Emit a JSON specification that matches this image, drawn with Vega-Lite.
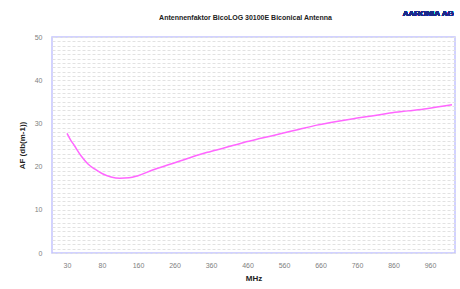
{
  "$schema": "https://vega.github.io/schema/vega-lite/v6.json",
  "width": 403,
  "height": 216,
  "autosize": {"type": "none"},
  "padding": {"left": 52, "top": 37, "right": 5, "bottom": 36},
  "background": "white",
  "title": {
    "text": "Antennenfaktor BicoLOG 30100E Biconical Antenna",
    "fontSize": 7,
    "font": "Liberation Sans",
    "fontWeight": "bold",
    "color": "#222222",
    "anchor": "middle",
    "frame": "group",
    "orient": "top",
    "dx": -8,
    "offset": -11
  },
  "config": {
    "view": {"stroke": "#c4c4ff", "strokeWidth": 1.5},
    "font": "Liberation Sans"
  },
  "data": {
    "values": [
      {"MHz": 30, "AF": 27.7},
      {"MHz": 35, "AF": 26.2},
      {"MHz": 40, "AF": 25.0},
      {"MHz": 50, "AF": 22.5},
      {"MHz": 60, "AF": 20.6},
      {"MHz": 70, "AF": 19.4},
      {"MHz": 80, "AF": 18.4},
      {"MHz": 100, "AF": 17.6},
      {"MHz": 120, "AF": 17.3},
      {"MHz": 140, "AF": 17.4},
      {"MHz": 160, "AF": 17.9},
      {"MHz": 200, "AF": 19.2},
      {"MHz": 250, "AF": 20.6},
      {"MHz": 300, "AF": 22.0},
      {"MHz": 350, "AF": 23.3},
      {"MHz": 400, "AF": 24.4},
      {"MHz": 450, "AF": 25.6},
      {"MHz": 500, "AF": 26.6},
      {"MHz": 550, "AF": 27.6},
      {"MHz": 600, "AF": 28.6},
      {"MHz": 650, "AF": 29.6},
      {"MHz": 700, "AF": 30.4},
      {"MHz": 750, "AF": 31.1},
      {"MHz": 800, "AF": 31.7},
      {"MHz": 850, "AF": 32.4},
      {"MHz": 900, "AF": 32.9},
      {"MHz": 950, "AF": 33.4},
      {"MHz": 1000, "AF": 34.3}
    ]
  },
  "layer": [
    {
      "mark": {"type": "line", "color": "#ff66ff", "strokeWidth": 1.5, "interpolate": "monotone"},
      "encoding": {
        "x": {
          "field": "MHz",
          "type": "quantitative",
          "scale": {"domain": [8.57, 30, 80, 160, 960, 1005.5], "range": [0, 15, 50, 86, 378, 403], "nice": false, "zero": false},
          "axis": {
            "values": [30, 80, 160, 260, 360, 460, 560, 660, 760, 860, 960],
            "tickCount": 20,
            "title": "MHz",
            "titleFontSize": 8,
            "titleFontWeight": "bold",
            "titleColor": "#222222",
            "titlePadding": 6,
            "labelFontSize": 7,
            "labelColor": "#808080",
            "labelPadding": 8,
            "labelOverlap": false,
            "ticks": false,
            "domain": false,
            "grid": false
          }
        },
        "y": {
          "field": "AF",
          "type": "quantitative",
          "scale": {"domain": [0, 50], "nice": false, "zero": true},
          "axis": {
            "values": [0,1,2,3,4,5,6,7,8,9,10,11,12,13,14,15,16,17,18,19,20,21,22,23,24,25,26,27,28,29,30,31,32,33,34,35,36,37,38,39,40,41,42,43,44,45,46,47,48,49,50],
            "tickCount": 60,
            "labelExpr": "datum.value % 10 === 0 ? datum.label : ''",
            "labelOverlap": false,
            "title": "AF (db(m-1))",
            "titleFontSize": 8,
            "titleFontWeight": "bold",
            "titleColor": "#222222",
            "titlePadding": 8,
            "labelFontSize": 7,
            "labelColor": "#808080",
            "labelPadding": 10,
            "ticks": false,
            "domain": false,
            "grid": true,
            "gridColor": "#e2e2e2",
            "gridDash": [3, 2],
            "gridWidth": 1
          }
        }
      }
    },
    {
      "mark": {"type": "text", "text": "AARONIA AG", "fontSize": 8, "fontWeight": "bold", "color": "#1a2a8a", "font": "Liberation Sans", "align": "center", "baseline": "middle"},
      "encoding": {
        "x": {"datum": 955, "type": "quantitative"},
        "y": {"datum": 55.3, "type": "quantitative"}
      }
    }
  ]
}
